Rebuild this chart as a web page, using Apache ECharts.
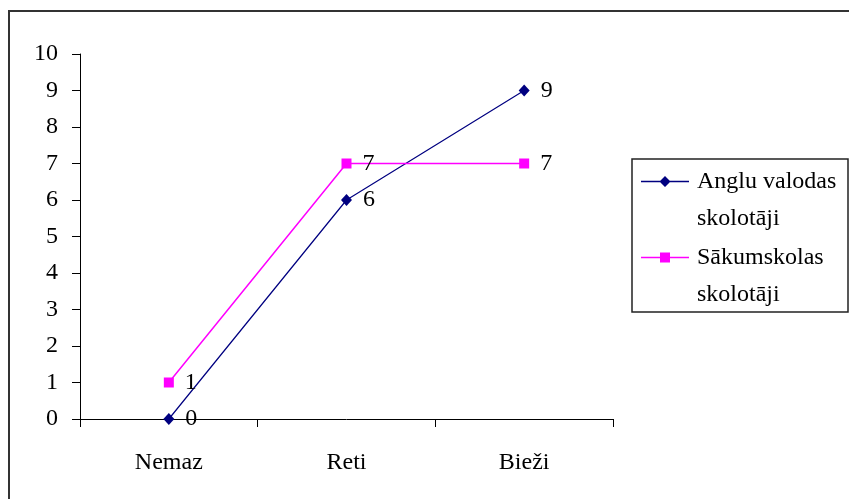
<!DOCTYPE html>
<html>
<head>
<meta charset="utf-8">
<script src="https://cdn.jsdelivr.net/npm/echarts@6/dist/echarts.min.js"></script>
<style>
  html, body { margin: 0; padding: 0; background: #fff; }
  #chart { width: 849px; height: 499px; }
</style>
</head>
<body>
<div id="chart"></div>
<script>
// Survey answers: how often teachers use the method
const categories = ['Nemaz', 'Reti', 'Bieži'];
const englishTeachers = [0, 6, 9];
const primaryTeachers = [1, 7, 7];
const seriesNames = ['Anglu valodas skolotāji', 'Sākumskolas skolotāji'];
const yTicks = { min: 0, max: 10, interval: 1 };

const FONT = '"Liberation Serif", "Times New Roman", serif';
const FS = 24;
const chart = echarts.init(document.getElementById('chart'), null, { renderer: 'canvas' });

const labelStyle = {
  show: true,
  position: 'right',
  distance: 11,
  fontFamily: FONT,
  fontSize: FS,
  color: '#000'
};

chart.setOption({
  animation: false,
  backgroundColor: '#fff',
  textStyle: { fontFamily: FONT },
  grid: { left: 80, top: 54, right: 236, bottom: 80, containLabel: false },
  xAxis: {
    type: 'category',
    data: categories,
    boundaryGap: true,
    axisLine: { lineStyle: { color: '#000', width: 1 } },
    axisTick: { show: true, length: 8, inside: false, lineStyle: { color: '#000' } },
    axisLabel: { fontFamily: FONT, fontSize: FS, color: '#000', margin: 32 },
    splitLine: { show: false }
  },
  yAxis: {
    type: 'value',
    min: yTicks.min,
    max: yTicks.max,
    interval: yTicks.interval,
    axisLine: { show: true, lineStyle: { color: '#000', width: 1 } },
    axisTick: { show: true, length: 8, inside: false, lineStyle: { color: '#000' } },
    axisLabel: { fontFamily: FONT, fontSize: FS, color: '#000', margin: 22 },
    splitLine: { show: false }
  },
  legend: {
    orient: 'vertical',
    left: 641,
    top: 126,
    padding: 0,
    itemGap: -35,
    itemWidth: 48,
    itemHeight: 11,
    // leading empty line keeps the first text line level with the icon
    formatter: name => '\n' + name.replace(/ (skolotāji)$/, '\n$1'),
    textStyle: {
      fontFamily: FONT,
      fontSize: FS,
      lineHeight: 37,
      color: '#000',
      padding: [0, 0, 0, 3]
    },
    data: [
      { name: seriesNames[0], icon: 'path://M0,4.7H48V6.3H0Z M18.5,5.5L24,0L29.5,5.5L24,11Z' },
      { name: seriesNames[1], icon: 'path://M0,4.7H48V6.3H0Z M19,0.5H29V10.5H19Z' }
    ]
  },
  graphic: [
    {
      type: 'rect',
      shape: { x: 9, y: 11, width: 860, height: 520 },
      style: { fill: 'none', stroke: '#333', lineWidth: 2 },
      silent: true
    },
    {
      type: 'rect',
      shape: { x: 632, y: 159, width: 216, height: 153 },
      style: { fill: 'none', stroke: '#222', lineWidth: 1.5 },
      silent: true
    }
  ],
  series: [
    {
      name: seriesNames[0],
      type: 'line',
      data: englishTeachers,
      symbol: 'diamond',
      symbolSize: [11, 12],
      lineStyle: { color: '#000080', width: 1.2 },
      itemStyle: { color: '#000080' },
      label: labelStyle
    },
    {
      name: seriesNames[1],
      type: 'line',
      data: primaryTeachers,
      symbol: 'rect',
      symbolSize: 10,
      lineStyle: { color: '#FF00FF', width: 1.5 },
      itemStyle: { color: '#FF00FF' },
      label: labelStyle
    }
  ]
});
</script>
</body>
</html>
